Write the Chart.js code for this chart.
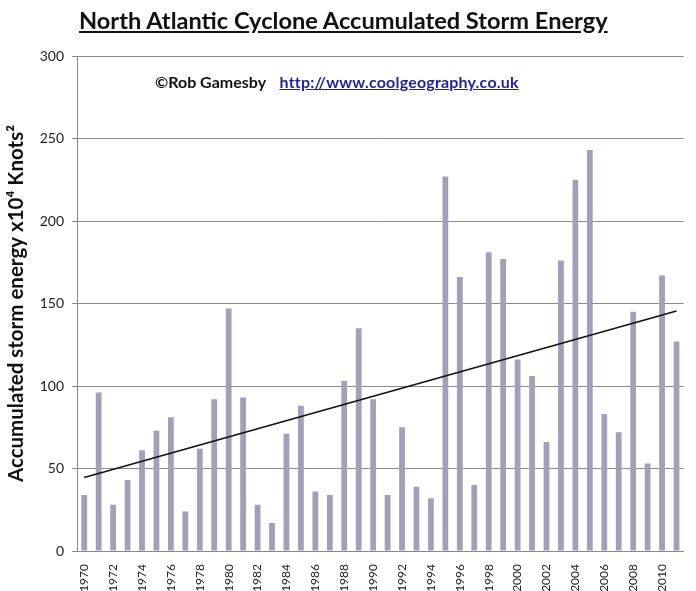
<!DOCTYPE html>
<html>
<head>
<meta charset="utf-8">
<script src="https://cdn.jsdelivr.net/npm/chart.js@4.4.1/dist/chart.umd.min.js"></script>
<style>
  html, body { margin: 0; padding: 0; background: #fff; }
  #wrap { position: relative; width: 696px; height: 591px; }
  #title {
    position: absolute; left: 79px; top: 6px; white-space: nowrap;
    font: bold 23.6px Lato, sans-serif; color: #111; text-decoration: underline;
  }
  #credit {
    position: absolute; left: 155px; top: 72px;
    font: bold 16px Lato, sans-serif; color: #111; white-space: nowrap;
  }
  #credit a { color: #1f1fa8; text-decoration: underline; margin-left: 10px; letter-spacing: 0.2px; }
</style>
</head>
<body>
<div id="wrap">
  <canvas id="chart" width="696" height="591"></canvas>
  <div id="title">North Atlantic Cyclone Accumulated Storm Energy</div>
  <div id="credit">©Rob Gamesby <a>http://www.coolgeography.co.uk</a></div>
</div>
<script>
// Years on the x axis
const years = [];
for (let y = 1970; y <= 2011; y++) years.push(String(y));

// Accumulated storm energy per year
const aceValues = [
  34, 96, 28, 43, 61, 73, 81, 24, 62, 92,
  147, 93, 28, 17, 71, 88, 36, 34, 103, 135,
  92, 34, 75, 39, 32, 227, 166, 40, 181, 177,
  116, 106, 66, 176, 225, 243, 83, 72, 145, 53,
  167, 127
];

// Trend line end points (1970 and 2011)
const trendStart = 44.5;
const trendEnd = 145.5;

const yTicks = [0, 50, 100, 150, 200, 250, 300];

const ctx = document.getElementById('chart');

new Chart(ctx, {
  data: {
    labels: years,
    datasets: [
      {
        type: 'line',
        data: [{ x: years[0], y: trendStart }, { x: years[years.length - 1], y: trendEnd }],
        borderColor: '#111',
        borderWidth: 1.5,
        pointRadius: 0,
        order: 0
      },
      {
        type: 'bar',
        data: aceValues,
        backgroundColor: '#a49ebb',
        barPercentage: 0.4,
        categoryPercentage: 1,
        order: 1
      }
    ]
  },
  options: {
    responsive: false,
    animation: false,
    layout: { padding: { top: 56, right: 8, left: 0, bottom: 0 } },
    plugins: { legend: { display: false }, tooltip: { enabled: false } },
    scales: {
      x: {
        grid: { display: false },
        border: { color: '#888', width: 1 },
        ticks: {
          autoSkip: false,
          maxRotation: 90,
          minRotation: 90,
          color: '#222',
          font: { family: 'Lato', size: 12 },
          padding: 5,
          callback: (v, i) => (i % 2 === 0 ? years[i] : '')
        },
        afterFit: s => { s.height = 40; }
      },
      y: {
        min: 0,
        max: 300,
        afterBuildTicks: s => { s.ticks = yTicks.map(v => ({ value: v })); },
        grid: { color: '#8a8a8a', lineWidth: 1, tickLength: 5 },
        border: { color: '#8a8a8a', width: 1 },
        ticks: {
          color: '#222',
          font: { family: 'Lato', size: 14 },
          padding: 8
        },
        title: {
          display: true,
          text: 'Accumulated storm energy x10⁴ Knots²',
          color: '#111',
          font: { family: 'Lato', size: 20.5, weight: 'bold' },
          padding: { top: 4, bottom: 0 }
        },
        afterFit: s => { s.width = 77; }
      }
    }
  }
});
</script>
</body>
</html>
